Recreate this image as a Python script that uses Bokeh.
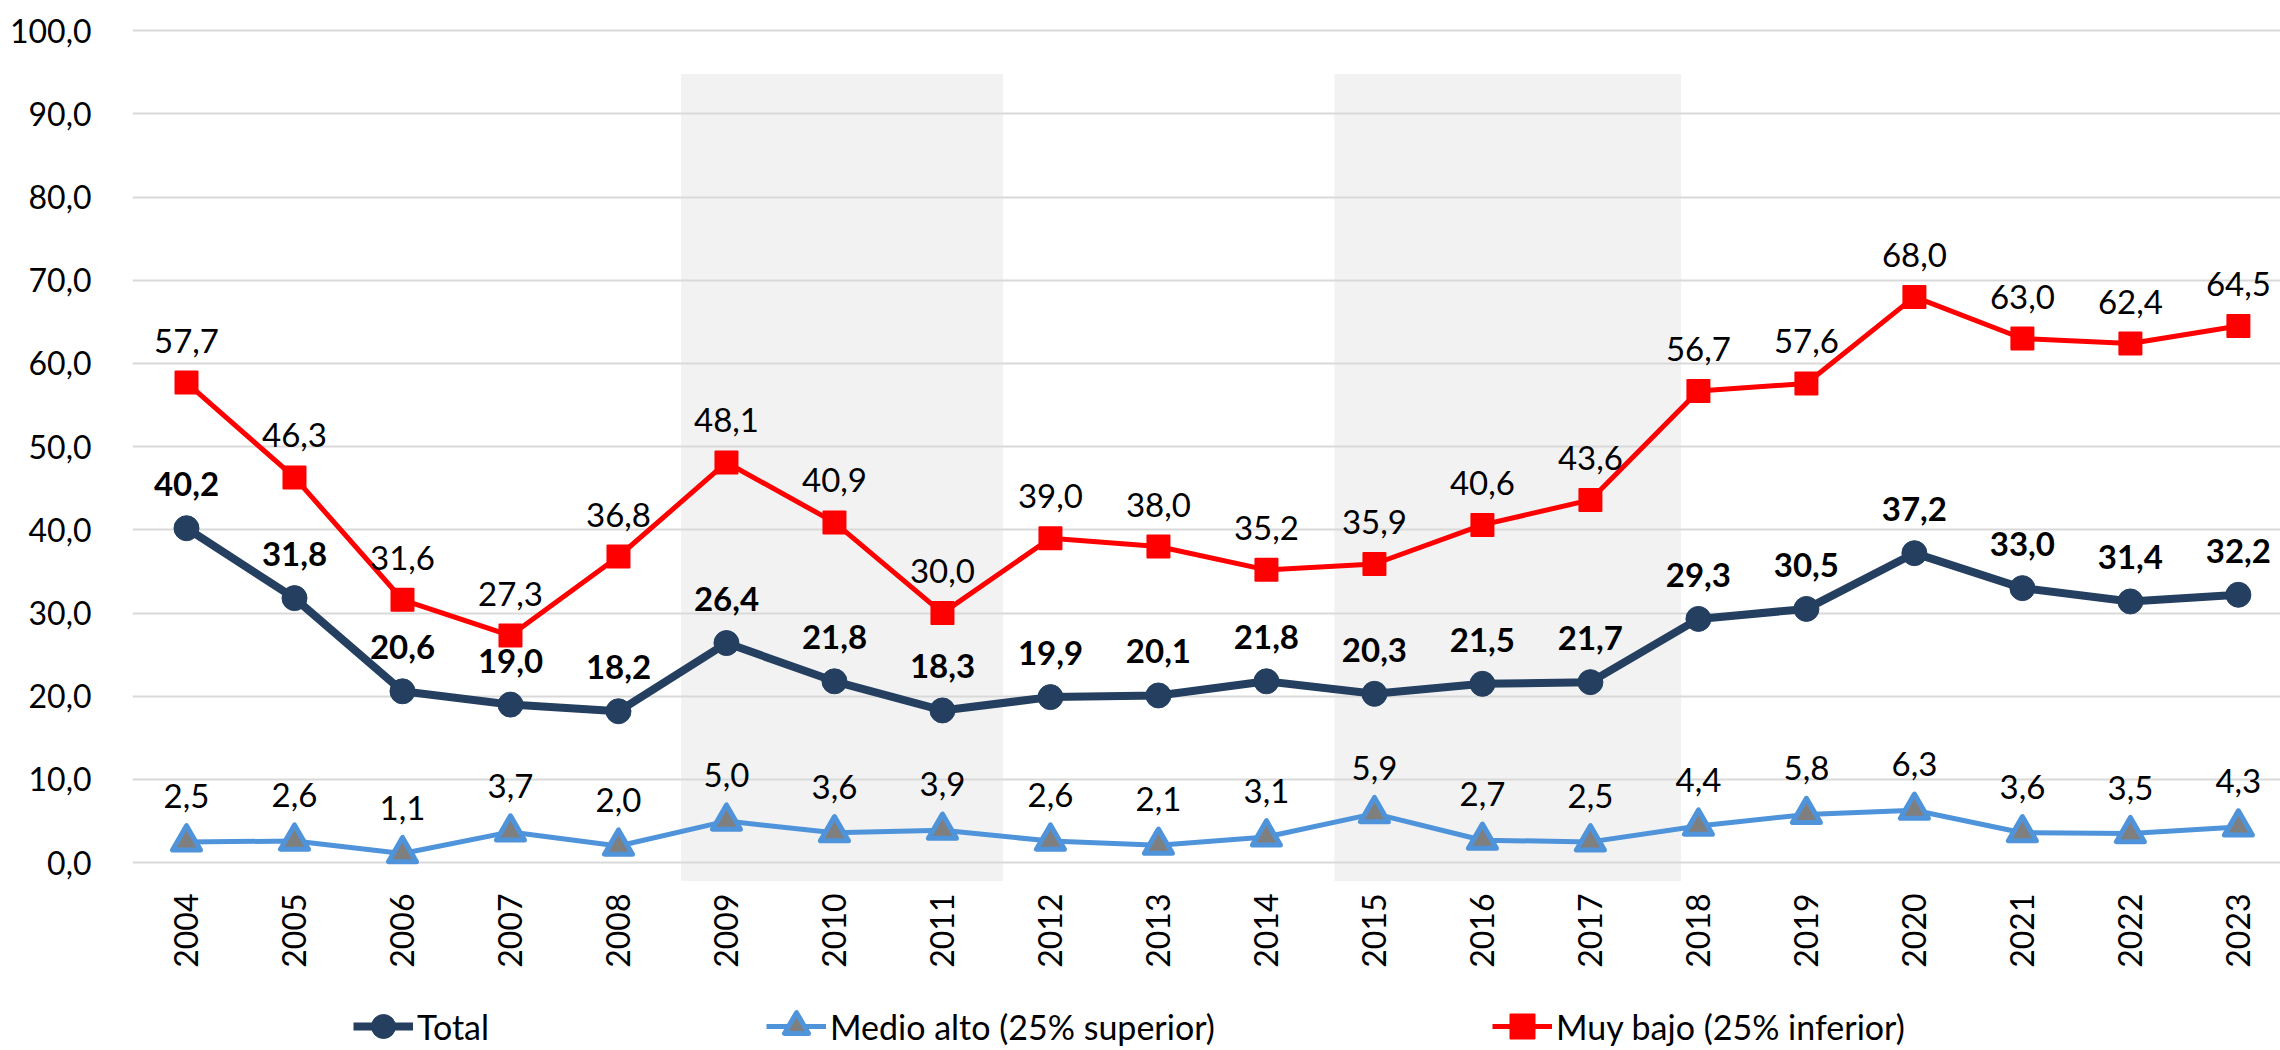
import numpy as np
from bokeh.plotting import figure
from bokeh.layouts import column
from bokeh.models import (ColumnDataSource, Range1d, FixedTicker, LabelSet,
                          Legend, LegendItem)
from bokeh.core.properties import value
from bokeh.embed import file_html
from bokeh.resources import INLINE

# ---------------- data ----------------
years = [str(y) for y in range(2004, 2024)]
total = [40.2, 31.8, 20.6, 19.0, 18.2, 26.4, 21.8, 18.3, 19.9, 20.1,
         21.8, 20.3, 21.5, 21.7, 29.3, 30.5, 37.2, 33.0, 31.4, 32.2]
medio_alto = [2.5, 2.6, 1.1, 3.7, 2.0, 5.0, 3.6, 3.9, 2.6, 2.1,
              3.1, 5.9, 2.7, 2.5, 4.4, 5.8, 6.3, 3.6, 3.5, 4.3]
muy_bajo = [57.7, 46.3, 31.6, 27.3, 36.8, 48.1, 40.9, 30.0, 39.0, 38.0,
            35.2, 35.9, 40.6, 43.6, 56.7, 57.6, 68.0, 63.0, 62.4, 64.5]
y_ticks = [0, 10, 20, 30, 40, 50, 60, 70, 80, 90, 100]
y_tick_labels = ["0,0", "10,0", "20,0", "30,0", "40,0", "50,0",
                 "60,0", "70,0", "80,0", "90,0", "100,0"]
series_names = ["Total", "Medio alto (25% superior)", "Muy bajo (25% inferior)"]
# shaded periods (2009-2011, 2015-2017), in category-index units
shade_left = [4.58, 10.63]
shade_right = [7.56, 13.84]
shade_bottom = [-2.2, -2.2]
shade_top = [94.8, 94.8]


def fmt(v):
    return f"{v:.1f}".replace(".", ",")


xs = list(range(len(years)))
src = ColumnDataSource(dict(
    x=xs, total=total, medio=medio_alto, bajo=muy_bajo,
    total_lbl=[fmt(v) for v in total],
    medio_lbl=[fmt(v) for v in medio_alto],
    bajo_lbl=[fmt(v) for v in muy_bajo],
))

FONT = "Lato"
FS_TICK = "32px"
FS_LBL = "33px"
FS_LEG = "34px"
C_TOT = "#243F60"
C_MED = "#4F94DA"
C_BAJ = "#FF0000"

MAIN_H = 980
p = figure(width=2280, height=MAIN_H, output_backend="svg", toolbar_location=None,
           x_range=Range1d(-0.5, 19.39), y_range=Range1d(-2.5, 100.5),
           min_border_left=132, min_border_right=0, min_border_top=26,
           min_border_bottom=MAIN_H - 883)
p.outline_line_color = None
p.background_fill_color = "white"
p.border_fill_color = "white"

# shading
p.quad(left=shade_left, right=shade_right, bottom=shade_bottom, top=shade_top,
       fill_color="#F2F2F2", line_color=None, level="image")

# grid
p.xgrid.visible = False
p.ygrid.ticker = FixedTicker(ticks=y_ticks)
p.ygrid.grid_line_color = "#D9D9D9"
p.ygrid.grid_line_width = 2

# axes
p.yaxis.ticker = FixedTicker(ticks=y_ticks)
p.yaxis.major_label_overrides = {t: l for t, l in zip(y_ticks, y_tick_labels)}
p.xaxis.ticker = FixedTicker(ticks=xs)
p.xaxis.major_label_overrides = {i: y for i, y in zip(xs, years)}
p.xaxis.major_label_orientation = np.pi / 2
for ax in (p.xaxis, p.yaxis):
    ax.axis_line_color = None
    ax.major_tick_line_color = None
    ax.minor_tick_line_color = None
    ax.major_label_text_font = FONT
    ax.major_label_text_font_size = FS_TICK
    ax.major_label_text_color = "black"
p.yaxis.major_label_standoff = 35
p.xaxis.major_label_standoff = 4

# series styles
sty_med_line = dict(line_color=C_MED, line_width=5)
sty_med_mark = dict(marker="triangle", fill_color="#7F7F7F", line_color=C_MED,
                    line_width=5, line_join="round")
sty_baj_line = dict(line_color=C_BAJ, line_width=5)
sty_baj_mark = dict(marker="square", fill_color=C_BAJ, line_color=C_BAJ,
                    line_width=2, line_join="round")
sty_tot_line = dict(line_color=C_TOT, line_width=8)
sty_tot_mark = dict(marker="circle", fill_color=C_TOT, line_color=C_TOT)

p.line("x", "medio", source=src, **sty_med_line)
p.scatter("x", "medio", source=src, size=28, **sty_med_mark)
p.line("x", "bajo", source=src, **sty_baj_line)
p.scatter("x", "bajo", source=src, size=22, **sty_baj_mark)
p.line("x", "total", source=src, **sty_tot_line)
p.scatter("x", "total", source=src, size=25, **sty_tot_mark)

# labels
common = dict(text_align="center", text_baseline="middle", text_font=value(FONT),
              text_font_size=value(FS_LBL), text_color="black")
p.add_layout(LabelSet(x="x", y="bajo", text="bajo_lbl", source=src, y_offset=42, **common))
p.add_layout(LabelSet(x="x", y="medio", text="medio_lbl", source=src, y_offset=46, **common))
p.add_layout(LabelSet(x="x", y="total", text="total_lbl", source=src, y_offset=44,
                      text_font_style="bold", **common))

# ---------------- legend strip ----------------
# The same series are drawn again in a strip figure whose ranges keep them
# out of view; only their legend entries are visible there.
LEG_H = 1050 - MAIN_H
q = figure(width=2280, height=LEG_H, output_backend="svg", toolbar_location=None,
           x_range=Range1d(-0.5, 19.39), y_range=Range1d(200, 300),
           x_axis_type=None, y_axis_type=None,
           min_border_left=0, min_border_right=0, min_border_top=0, min_border_bottom=0)
q.outline_line_color = None
q.xgrid.visible = False
q.ygrid.visible = False
q.background_fill_color = "white"
q.border_fill_color = "white"
lt = q.line("x", "total", source=src, **sty_tot_line)
mt = q.scatter("x", "total", source=src, **sty_tot_mark)
lm = q.line("x", "medio", source=src, **sty_med_line)
mm = q.scatter("x", "medio", source=src, **sty_med_mark)
lb = q.line("x", "bajo", source=src, **sty_baj_line)
mb = q.scatter("x", "bajo", source=src, **sty_baj_mark)

GH = 62
FRAME_LEFT = 132   # the column aligns the strip's frame with the main frame
legend = Legend(items=[LegendItem(label=series_names[0], renderers=[lt, mt]),
                       LegendItem(label=series_names[1], renderers=[lm, mm]),
                       LegendItem(label=series_names[2], renderers=[lb, mb])],
                orientation="horizontal",
                location=(353 - FRAME_LEFT, LEG_H - (1026 - MAIN_H) - GH // 2),
                spacing=277, glyph_width=60, glyph_height=GH, label_standoff=4,
                padding=0, margin=0, border_line_color=None, background_fill_alpha=0,
                label_text_font=FONT, label_text_font_size=FS_LEG, label_text_color="black",
                label_height=GH, label_text_baseline="middle")
q.add_layout(legend, "center")

layout = column(p, q, spacing=0)
open("out.html", "w").write(file_html(layout, INLINE))
